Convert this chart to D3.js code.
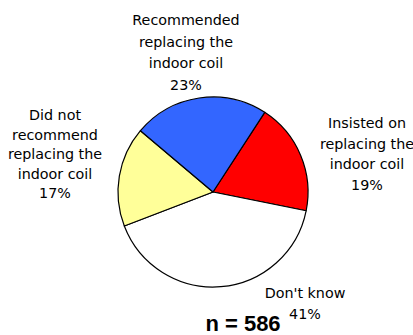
<!DOCTYPE html>
<html>
<head>
<meta charset="utf-8">
<script src="https://cdn.jsdelivr.net/npm/d3@7"></script>
<style>
  html, body { margin: 0; padding: 0; background: #fff; }
  svg { display: block; }
</style>
</head>
<body>
<svg id="chart" width="413" height="335"></svg>
<script>
// Survey responses on replacing the indoor coil (percent of n = 586)
const categories = [
  "Insisted on replacing the indoor coil",
  "Don't know",
  "Did not recommend replacing the indoor coil",
  "Recommended replacing the indoor coil"
];
const values = [19, 41, 17, 23];
const sliceColors = ["#FF0000", "#FFFFFF", "#FFFF99", "#3366FF"];
const labelLines = [
  ["Insisted on", "replacing the", "indoor coil"],
  ["Don't know"],
  ["Did not", "recommend", "replacing the", "indoor coil"],
  ["Recommended", "replacing the", "indoor coil"]
];
const sampleSize = 586;

// Layout
const cx = 213, cy = 192, radius = 95;
const labelAnchors = [
  { x: 367, y: 128, lh: 20.5 },
  { x: 305, y: 298, lh: 21 },
  { x: 55,  y: 120, lh: 19.5 },
  { x: 186, y: 25,  lh: 21.5 }
];

const svg = d3.select("#chart");
const g = svg.append("g").attr("transform", `translate(${cx},${cy})`);

const pie = d3.pie()
  .sort(null)
  .value(d => d)
  .startAngle(33 * Math.PI / 180)
  .endAngle(33 * Math.PI / 180 + 2 * Math.PI);

const arc = d3.arc().innerRadius(0).outerRadius(radius);

g.selectAll("path.slice")
  .data(pie(values))
  .join("path")
  .attr("class", "slice")
  .attr("d", arc)
  .attr("fill", (d, i) => sliceColors[i])
  .attr("stroke", "#000")
  .attr("stroke-width", 1.2)
  .attr("stroke-linejoin", "round");

// Category labels with percentage on the last line
const labels = svg.selectAll("text.label")
  .data(categories)
  .join("text")
  .attr("class", "label")
  .attr("text-anchor", "middle")
  .attr("font-family", "DejaVu Sans, sans-serif")
  .attr("font-size", "14.3px")
  .attr("fill", "#000");

labels.each(function (d, i) {
  const a = labelAnchors[i];
  const lines = labelLines[i].concat([values[i] + "%"]);
  d3.select(this).selectAll("tspan")
    .data(lines)
    .join("tspan")
    .attr("x", a.x)
    .attr("y", (l, j) => a.y + j * a.lh)
    .text(l => l);
});

svg.append("text")
  .attr("x", 243)
  .attr("y", 331)
  .attr("text-anchor", "middle")
  .attr("font-family", "Liberation Sans, Arial, sans-serif")
  .attr("font-weight", "bold")
  .attr("font-size", "22px")
  .attr("fill", "#000")
  .text("n = " + sampleSize);
</script>
</body>
</html>
